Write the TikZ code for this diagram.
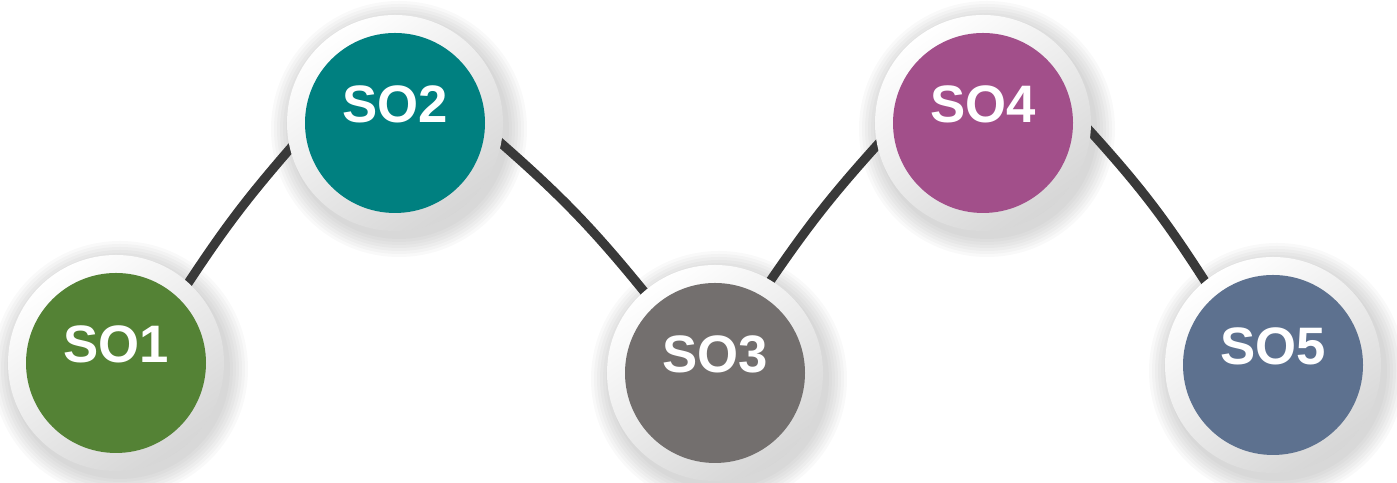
\documentclass[tikz,border=0pt]{standalone}
\usepackage{fontspec}
\setmainfont{Liberation Sans}
\usepackage{tikz}
\usetikzlibrary{backgrounds, positioning}
\definecolor{sogreen}{HTML}{548235}
\definecolor{soteal}{HTML}{008080}
\definecolor{sogray}{HTML}{736F6E}
\definecolor{sopurple}{HTML}{A24F8A}
\definecolor{soblue}{HTML}{5D718F}
\definecolor{solink}{HTML}{393939}
\pgfdeclarelayer{shadow}
\pgfsetlayers{shadow,background,main}
\tikzset{
  sobub/.style={circle, minimum size=2.16cm, inner sep=0pt,
    top color=white, bottom color=black!16, shading angle=35,
    text=white, font=\fontsize{15}{18}\selectfont\bfseries,
    text height=.4cm, text depth=.4cm,
    path picture={\fill[#1] (path picture bounding box.center) circle (.9cm);}},
  solink/.style={draw=solink, line width=2.6pt, shorten <=-4pt, shorten >=-4pt}
}

\begin{document}
\begin{tikzpicture}
  \useasboundingbox (0,0) rectangle (13.97,4.83);
  \foreach \n/\x/\y/\c in {1/1.16/1.20/sogreen, 2/3.95/3.60/soteal, 3/7.15/1.10/sogray, 4/9.83/3.60/sopurple, 5/12.73/1.18/soblue}
  {
      \node[sobub=\c] (so\n) at (\x,\y) {SO\n};
      \begin{pgfonlayer}{shadow}
        \foreach \r in {1.10,1.13,...,1.29}
          \fill[black, opacity=.025] (\x+.04,\y-.06) circle (\r);
      \end{pgfonlayer}
  }

  \begin{pgfonlayer}{background}
    \draw[solink] (so1.48) to[bend left=4] (so2.194);
    \draw[solink] (so2.-11) to[bend left=5] (so3.131);
    \draw[solink] (so3.59) to[bend left=4] (so4.192);
    \draw[solink] (so4.-5) to[bend left=5] (so5.129);
  \end{pgfonlayer}
\end{tikzpicture}
\end{document}
